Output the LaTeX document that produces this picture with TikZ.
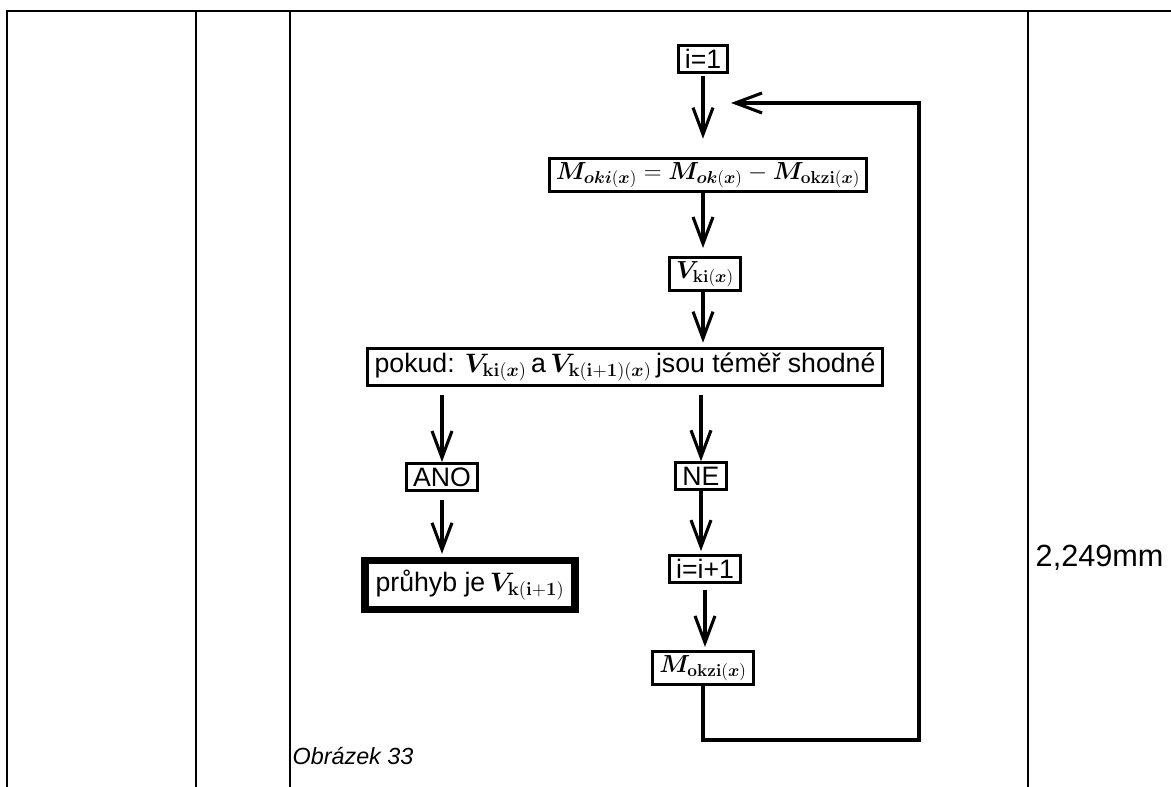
\RequirePackage{fix-cm}
\documentclass[tikz,border=0pt]{standalone}
\usepackage{amsmath}
\usepackage{bm}
\usepackage[no-math]{fontspec}
\setmainfont{Liberation Sans}
\usetikzlibrary{arrows.meta}

\begin{document}
\begin{tikzpicture}[
        x=0.75pt, y=-0.75pt,
        font=\fontsize{20}{23}\selectfont,
        box/.style={draw, line width=2.3pt, inner xsep=5pt, inner ysep=3pt},
        mathbox/.style={box, font=\fontsize{18.5}{22}\selectfont},
        heavybox/.style={box, line width=5.5pt, inner xsep=8pt, inner ysep=7pt},
        arr/.style={line width=2.3pt, -{Straight Barb[length=20pt,width=15pt,line width=2.3pt]}},
        rule/.style={line width=1.8pt},
    ]
    \useasboundingbox (0,0) rectangle (1171,787);
    % table frame
    \draw[rule] (7,787) -- (7,11) -- (1171,11);
    \draw[rule] (196,11) -- (196,787);
    \draw[rule] (290,11) -- (290,787);
    \draw[rule] (1028,11) -- (1028,787);

    % flow
    \node[box](i1) at (703,59){i=1};
    \node[mathbox](mok) at (708,175){$\bm{M}_{\bm{oki}(\bm{x})}=\bm{M}_{\bm{ok}(\bm{x})}-\bm{M}_{\mathbf{okzi}(\bm{x})}$};
    \node[mathbox](vki) at (705,274){$\bm{V}_{\mathbf{ki}(\bm{x})}$};
    \node[box](pokud) at (625,367){pokud: $\bm{V}_{\mathbf{ki}(\bm{x})}$\,a\,$\bm{V}_{\mathbf{k(i+1)}(\bm{x})}$\,jsou téměř shodné};
    \node[box](ano) at (442,477){ANO};
    \node[heavybox](pruhyb) at (470,585){průhyb je\,$\bm{V}_{\mathbf{k(i+1)}}$};
    \node[box](ne) at (701,476){NE};
    \node[box](ii) at (705,569){i=i+1};
    \node[mathbox](mokzi) at (703,668){$\bm{M}_{\mathbf{okzi}(\bm{x})}$};

    \draw[arr, shorten <=2pt, shorten >=13pt] (703,73) -- (703,156);
    \draw[arr, shorten >=6pt] (703,193) -- (703,256);
    \draw[arr, shorten >=4pt] (703,292) -- (703,348);
    \draw[arr, shorten <=6pt] (pokud.south -| ano) -- (ano.north);
    \draw[arr, shorten <=6pt] (pokud.south -| ne) -- (ne.north);
    \draw[arr, shorten <=6pt, shorten >=2pt] (ano.south) -- (pruhyb.north -| ano);
    \draw[arr, shorten >=2pt] (ne.south) -- (ii.north -| ne);
    \draw[arr, shorten <=4pt, shorten >=2pt] (ii.south) -- (mokzi.north -| ii);

    % loop back
    \coordinate (back) at (731,103);
    \draw[arr] (mokzi.south) -- (703,740) -- (919,740) -- (919,103) -- (back);

    \node[anchor=base west, font=\fontsize{23}{26}\selectfont](mm) at (1031,566){2,249mm};
    \node[anchor=base west, font=\fontsize{17.5}{20}\selectfont\itshape](cap) at (288,764){Obrázek 33};
\end{tikzpicture}
\end{document}
